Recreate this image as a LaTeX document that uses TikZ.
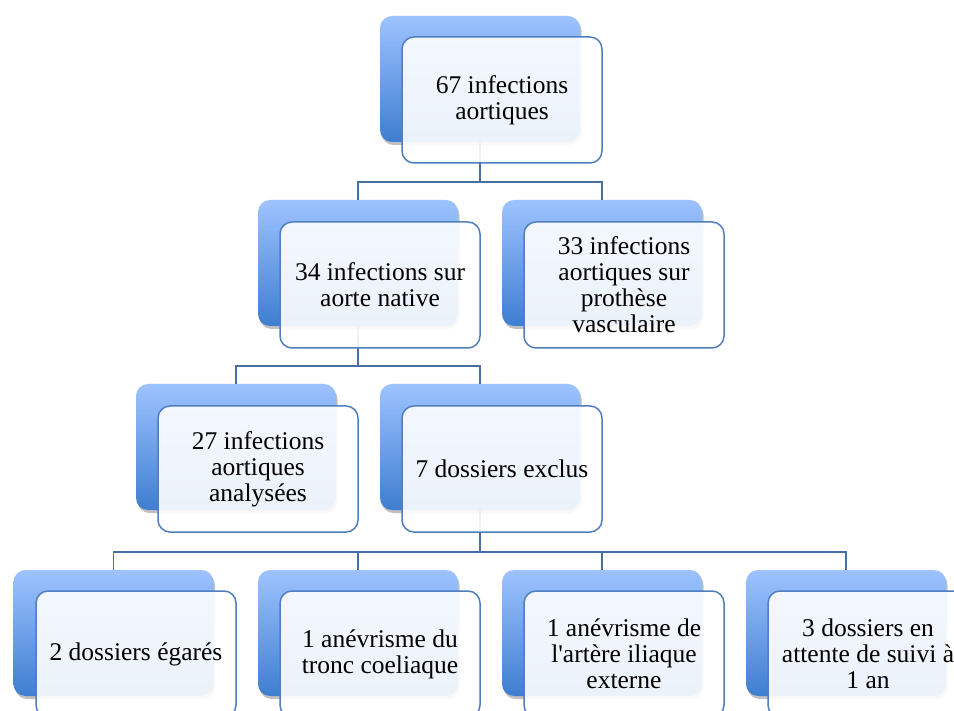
\documentclass[tikz,border=0pt]{standalone}
\usepackage{fontspec}
\setmainfont{Liberation Serif}
\font\straightq="Liberation Serif" at 25.5pt
\usetikzlibrary{shadows}
\definecolor{backtop}{RGB}{158,195,255}
\definecolor{backbot}{RGB}{62,126,208}
\definecolor{frontline}{RGB}{79,127,190}
\definecolor{conn}{RGB}{72,110,165}
\tikzset{
  backbox/.style={rectangle, rounded corners=12pt, minimum width=200pt, minimum height=126pt,
    top color=backtop, bottom color=backbot, draw=none,
    drop shadow={shadow xshift=1.5pt, shadow yshift=-3pt, opacity=0.35, fill=black!70}},
  frontbox/.style={rectangle, rounded corners=12pt, minimum width=200pt, minimum height=126pt,
    draw=frontline, line width=1.5pt, fill=white, fill opacity=0.9, text opacity=1,
    align=center, font=\fontsize{25.5}{26}\selectfont, inner sep=2pt},
  connector/.style={draw=conn, line width=1.8pt}
}
\begin{document}
\begin{tikzpicture}[x=1pt,y=-1pt]
\clip (0,0) rectangle (954,711);
\fill[white] (0,0) rectangle (954,711);
% back boxes
\node[backbox] (b1) at (480,79) {};
\node[backbox] (b2) at (358,263) {};
\node[backbox] (b3) at (602,263) {};
\node[backbox] (b4) at (236,447) {};
\node[backbox] (b5) at (480,447) {};
\node[backbox] (b6) at (113.5,633) {};
\node[backbox] (b7) at (358,633) {};
\node[backbox] (b8) at (602,633) {};
\node[backbox] (b9) at (846,633) {};
% bus coordinates
\coordinate (bus1) at (0,182);
\coordinate (bus2) at (0,366);
\coordinate (bus3) at (0,552);
% connectors
\draw[connector] (b1.south) -- (b1.south |- bus1) -| (b2.north);
\draw[connector] (b1.south |- bus1) -| (b3.north);
\draw[connector] (b2.south) -- (b2.south |- bus2) -| (b4.north);
\draw[connector] (b2.south |- bus2) -| (b5.north);
\draw[connector] (b5.south) -- (b5.south |- bus3) -| (b6.north);
\draw[connector] (b5.south |- bus3) -| (b7.north);
\draw[connector] (b5.south |- bus3) -| (b8.north);
\draw[connector] (b5.south |- bus3) -| (b9.north);
% front boxes
\node[frontbox] (f1) at (502,100) {67 infections\\aortiques};
\node[frontbox] (f2) at (380,285) {34 infections sur\\aorte native};
\node[frontbox] (f3) at (624,285) {33 infections\\aortiques sur\\prothèse\\vasculaire};
\node[frontbox] (f4) at (258,469) {27 infections\\aortiques\\analysées};
\node[frontbox] (f5) at (502,469) {7 dossiers exclus};
\node[frontbox] (f6) at (136,654) {2 dossiers égarés};
\node[frontbox] (f7) at (380,654) {1 anévrisme du\\tronc coeliaque};
\node[frontbox] (f8) at (624,654) {1 anévrisme de\\l{\straightq'}artère iliaque\\externe};
\node[frontbox] (f9) at (868,654) {3 dossiers en\\attente de suivi à\\1 an};
\end{tikzpicture}
\end{document}
